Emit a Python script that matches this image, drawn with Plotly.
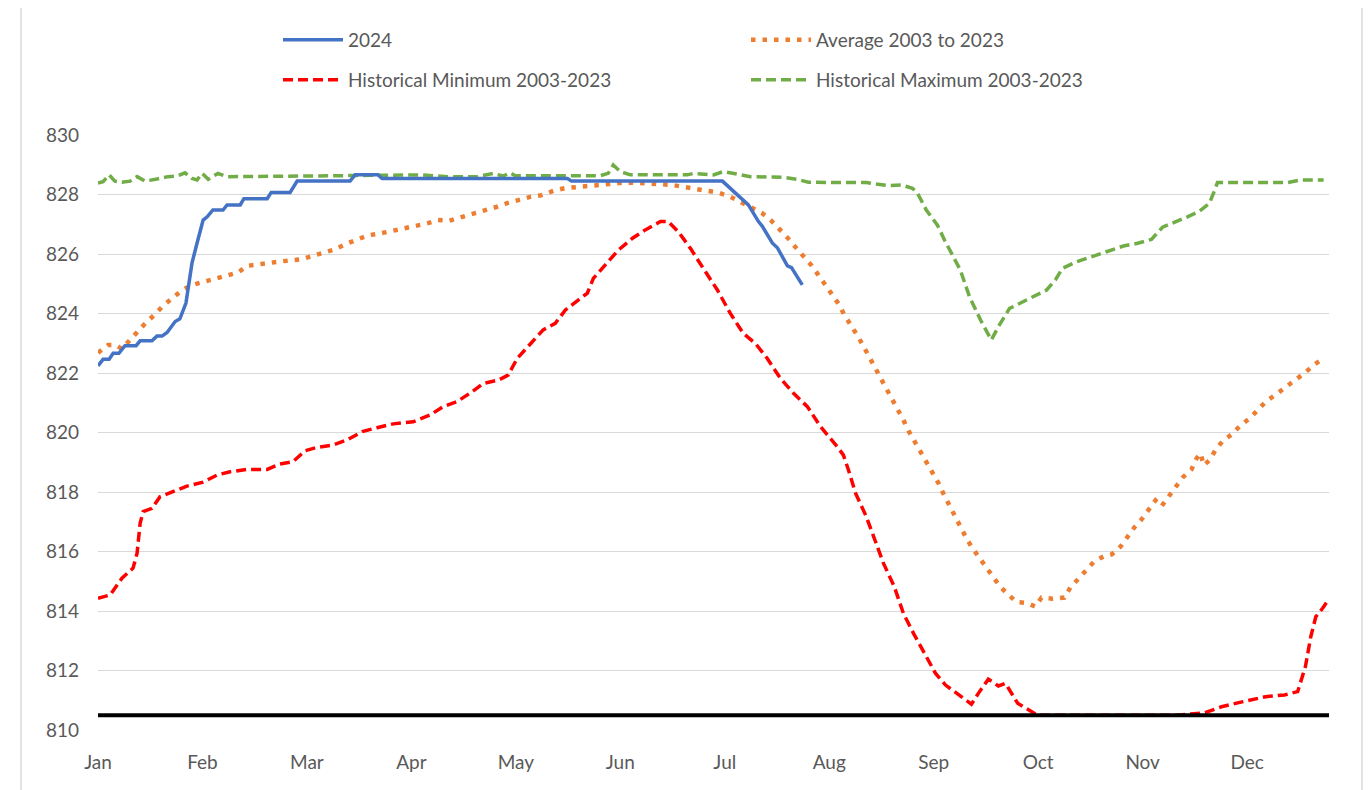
import plotly.graph_objects as go

# ---------------- data (day index 0..365, labels every 31 points) ----------------
months = ["Jan", "Feb", "Mar", "Apr", "May", "Jun", "Jul", "Aug", "Sep", "Oct", "Nov", "Dec"]
month_pos = [0, 31, 62, 93, 124, 155, 186, 217, 248, 279, 310, 341]

y2024_day = [0, 1.5, 3.3, 4.5, 6.2, 8, 11.3, 12.5, 16, 17.5, 19, 20.5, 22.9, 24.3, 26.1, 27.9, 29.4,
             31.2, 32.4, 34.1, 37.1, 38.3, 42.2, 43.3, 50.2, 51.4, 57, 59.1, 74.8, 76.3, 83.1, 84.3,
             139.3, 140.5, 185.3, 191.2, 193, 196, 197.1, 200.1, 201.6, 204.6, 205.8, 209]
y2024_val = [822.24, 822.46, 822.46, 822.66, 822.66, 822.92, 822.92, 823.08, 823.08, 823.24, 823.24,
             823.36, 823.73, 823.82, 824.35, 825.7, 826.37, 827.14, 827.25, 827.48, 827.48, 827.65,
             827.65, 827.86, 827.86, 828.07, 828.07, 828.45, 828.45, 828.66, 828.66, 828.54, 828.54,
             828.45, 828.45, 827.85, 827.65, 827.09, 826.94, 826.37, 826.21, 825.6, 825.54, 824.96]

avg_day = [0, 3.0, 5.3, 7.1, 9.5, 11.9, 14.3, 16.9, 19.3, 22.0, 24.9, 27.9, 31.5, 34.7, 38.3, 41.6,
           44.2, 47.8, 51.4, 54.9, 60.3, 63.5, 67.1, 70.4, 73.6, 76.9, 80.2, 83.7, 87.0, 90.6, 94.1,
           97.7, 100.9, 104.2, 107.8, 111.3, 114.6, 118.2, 121.4, 124.7, 128.3, 131.8, 135.1, 138.4,
           141.9, 145.5, 148.8, 152.6, 156.2, 159.7, 163.0, 166.9, 170.4, 173.7, 177.3, 180.8, 184.1,
           187.6, 190.6, 194.2, 197.1, 199.8, 202.2, 204.6, 206.9, 209.3, 211.7, 213.8, 215.9, 217.9,
           219.9, 221.5, 223.6, 225.4, 227.1, 228.9, 230.5, 232.2, 233.9, 235.5, 237.2, 239.0, 240.5,
           242.3, 244.1, 245.8, 247.6, 249.4, 250.9, 252.4, 254.2, 255.6, 257.4, 259.2, 261.3, 263.4,
           265.4, 267.5, 269.9, 272.6, 275.5, 278.2, 280.0, 283.3, 286.8, 288.6, 291.0, 293.3, 295.7,
           298.4, 300.8, 303.4, 305.5, 307.6, 309.7, 311.8, 313.8, 315.6, 317.7, 319.8, 321.9, 324.5,
           326.0, 327.2, 328.1, 329.9, 331.6, 333.7, 336.7, 339.1, 342.0, 344.4, 346.8, 349.8, 352.7,
           355.4, 358.3, 361.0, 364.0]
avg_val = [822.68, 822.94, 822.94, 822.81, 823.11, 823.41, 823.70, 823.97, 824.26, 824.51, 824.78,
           824.96, 825.07, 825.16, 825.29, 825.38, 825.60, 825.66, 825.71, 825.76, 825.82, 825.93,
           826.02, 826.16, 826.34, 826.50, 826.63, 826.69, 826.78, 826.86, 826.94, 827.03, 827.14,
           827.12, 827.23, 827.34, 827.46, 827.58, 827.71, 827.82, 827.92, 827.98, 828.12, 828.21,
           828.25, 828.30, 828.33, 828.38, 828.40, 828.39, 828.38, 828.35, 828.32, 828.26, 828.21,
           828.15, 828.06, 827.93, 827.76, 827.57, 827.37, 827.12, 826.85, 826.55, 826.24, 825.94,
           825.62, 825.29, 824.97, 824.65, 824.30, 823.95, 823.60, 823.25, 822.91, 822.56, 822.20,
           821.84, 821.50, 821.14, 820.78, 820.42, 820.06, 819.71, 819.35, 819.01, 818.66, 818.30,
           817.94, 817.59, 817.23, 816.87, 816.51, 816.16, 815.83, 815.49, 815.18, 814.85, 814.57,
           814.30, 814.27, 814.15, 814.45, 814.41, 814.45, 814.80, 815.09, 815.40, 815.68, 815.83,
           815.90, 816.16, 816.49, 816.82, 817.08, 817.38, 817.72, 817.52, 817.83, 818.17, 818.49,
           818.76, 819.13, 819.30, 818.90, 819.07, 819.41, 819.71, 819.96, 820.25, 820.49, 820.79,
           821.06, 821.30, 821.53, 821.77, 822.02, 822.29, 822.51]

min_day = [0, 3.6, 7.1, 10.4, 11.6, 12.5, 13.4, 16.0, 18.4, 22.3, 26.4, 31.2, 35.3, 39.2, 44.2, 50.2,
           54.0, 57.9, 61.5, 65.0, 69.8, 73.9, 78.4, 82.8, 87.6, 93.5, 98.6, 102.4, 106.6, 111.0,
           114.3, 118.8, 121.7, 124.4, 128.3, 132.1, 135.7, 138.7, 142.5, 145.2, 147.0, 151.4, 154.4,
           158.6, 162.4, 166.9, 169.2, 172.2, 175.8, 179.6, 183.8, 187.6, 191.5, 195.1, 198.6, 202.5,
           206.4, 210.5, 214.4, 219.4, 221.2, 222.7, 224.8, 228.0, 230.4, 233.1, 236.3, 239.0, 242.0,
           245.2, 248.5, 251.5, 255.3, 259.2, 261.6, 264.2, 267.2, 269.3, 272.9, 276.1, 278.8, 290,
           300, 310, 320, 328.4, 333.4, 338.5, 342.6, 346.5, 352.1, 356.0, 358.3, 359.9, 361.4, 363.4,
           365.2]
min_val = [814.43, 814.54, 815.10, 815.44, 815.94, 816.95, 817.34, 817.45, 817.84, 818.01, 818.20,
           818.33, 818.57, 818.68, 818.76, 818.76, 818.94, 819.02, 819.39, 819.50, 819.58, 819.75,
           820.03, 820.16, 820.29, 820.36, 820.59, 820.87, 821.04, 821.37, 821.65, 821.76, 821.93,
           822.49, 822.99, 823.45, 823.67, 824.12, 824.45, 824.68, 825.18, 825.74, 826.13, 826.53,
           826.81, 827.09, 827.09, 826.75, 826.19, 825.52, 824.79, 824.01, 823.33, 822.99, 822.49,
           821.82, 821.32, 820.87, 820.20, 819.52, 819.24, 818.74, 817.96, 817.17, 816.39, 815.60,
           814.82, 813.92, 813.25, 812.58, 811.91, 811.51, 811.18, 810.87, 811.29, 811.71, 811.48,
           811.57, 810.90, 810.67, 810.50, 810.50, 810.50, 810.50, 810.50, 810.58, 810.78, 810.92,
           811.01, 811.12, 811.18, 811.29, 812.13, 813.14, 813.81, 814.09, 814.39]

max_day = [0, 1.5, 3.3, 5.0, 7.1, 9.5, 11.6, 14.0, 17.5, 20.8, 23.5, 25.8, 27.9, 29.4, 30.9, 32.7,
           35.6, 38.3, 60, 95.6, 103.9, 112.5, 117.3, 120.2, 122.3, 123.8, 149.0, 151.4, 152.9,
           155.0, 158.0, 174.9, 176.7, 182.6, 185.6, 188.5, 193.6, 203.4, 207.5, 210.8, 228.0, 234.3,
           238.4, 241.7, 243.2, 245.8, 249.1, 251.2, 253.9, 255.9, 258.6, 261.9, 265.1, 267.2, 270.5,
           276.7, 281.5, 284.1, 286.2, 290.4, 294.8, 300.1, 304.3, 308.5, 312.6, 315.9, 319.2, 323.3,
           326.6, 329.8, 331.4, 332.2, 353.0, 356.9, 363.7]
max_val = [828.38, 828.43, 828.66, 828.45, 828.41, 828.45, 828.60, 828.45, 828.52, 828.60, 828.62,
           828.73, 828.54, 828.49, 828.71, 828.51, 828.71, 828.60, 828.62, 828.66, 828.60, 828.60,
           828.71, 828.62, 828.73, 828.63, 828.63, 828.71, 828.99, 828.77, 828.66, 828.66, 828.71,
           828.66, 828.77, 828.71, 828.60, 828.58, 828.51, 828.41, 828.40, 828.30, 828.32, 828.21,
           828.04, 827.48, 826.97, 826.47, 825.91, 825.46, 824.57, 823.78, 823.11, 823.56, 824.17,
           824.51, 824.79, 825.13, 825.52, 825.74, 825.91, 826.13, 826.27, 826.36, 826.49, 826.90,
           827.05, 827.25, 827.42, 827.70, 828.15, 828.40, 828.40, 828.49, 828.49]

ref_day = [0, 365.3]
ref_val = [810.5, 810.5]

# ---------------- figure ----------------
FONT = "Lato, 'Open Sans', sans-serif"
TXT = "#595959"

fig = go.Figure()
fig.add_trace(go.Scatter(x=min_day, y=min_val, mode="lines", name="Historical Minimum 2003-2023",
                         line=dict(color="#FF0000", width=3.5, dash="10px,5px"),
                         legend="legend2", legendrank=1))
fig.add_trace(go.Scatter(x=max_day, y=max_val, mode="lines", name="Historical Maximum 2003-2023",
                         line=dict(color="#70AD47", width=3.5, dash="10px,5px"),
                         legend="legend2", legendrank=2))
fig.add_trace(go.Scatter(x=avg_day, y=avg_val, mode="lines", name="Average 2003 to 2023",
                         line=dict(color="#ED7D31", width=4.5, dash="4.5px,7px"),
                         legend="legend", legendrank=2))
fig.add_trace(go.Scatter(x=y2024_day, y=y2024_val, mode="lines", name="2024",
                         line=dict(color="#4472C4", width=3.5),
                         legend="legend", legendrank=1))
fig.add_trace(go.Scatter(x=ref_day, y=ref_val, mode="lines", showlegend=False,
                         line=dict(color="#000000", width=4), hoverinfo="skip"))

# page offset: the html body has an 8px margin
OFF = 8
W, H = 1371 - OFF, 790 - OFF
L, R, T, B = 98 - OFF, 42, 135 - OFF, 60
pw = W - L - R
ph = H - T - B


def px_x(p):
    """page pixel x -> paper coordinate"""
    return (p - OFF - L) / pw


def px_y(p):
    """page pixel y -> paper coordinate"""
    return (H - B - (p - OFF)) / ph


leg_common = dict(orientation="h", xanchor="left", yanchor="middle", entrywidth=393,
                  entrywidthmode="pixels", traceorder="normal", itemwidth=60,
                  font=dict(family=FONT, size=19, color=TXT), bgcolor="rgba(0,0,0,0)")

fig.update_layout(
    width=W, height=H,
    margin=dict(l=L, r=R, t=T, b=B),
    paper_bgcolor="white", plot_bgcolor="white",
    font=dict(family=FONT, size=19, color=TXT),
    xaxis=dict(range=[0, 365.3], tickmode="array", tickvals=month_pos, ticktext=months,
               showgrid=False, zeroline=False, showline=False, ticks="",
               ticklabelstandoff=19, tickfont=dict(family=FONT, size=19, color=TXT)),
    yaxis=dict(range=[810, 830], dtick=2, tick0=810, showgrid=True, gridcolor="#D9D9D9",
               gridwidth=1.3, zeroline=False, showline=False, ticks="",
               ticklabelstandoff=18, tickfont=dict(family=FONT, size=19, color=TXT)),
    legend=dict(x=px_x(278), y=px_y(40), **leg_common),
    legend2=dict(x=px_x(278), y=px_y(80), **leg_common),
    shapes=[dict(type="rect", xref="paper", yref="paper", layer="below",
                 x0=px_x(21), x1=px_x(1362), y0=px_y(800), y1=px_y(4),
                 line=dict(color="#D9D9D9", width=1.5), fillcolor="rgba(0,0,0,0)")],
)

fig.write_html("out.html")
